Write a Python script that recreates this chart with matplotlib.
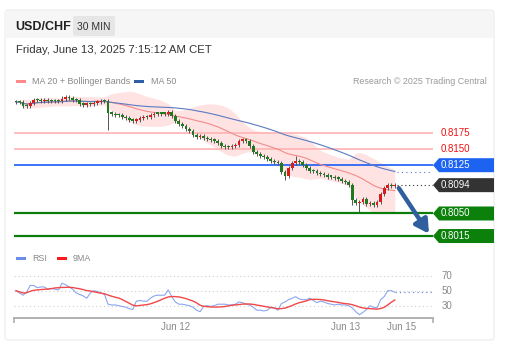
import matplotlib
matplotlib.use("Agg")
import matplotlib.pyplot as plt
import numpy as np
import pandas as pd
from matplotlib.patches import FancyBboxPatch, Rectangle, Polygon

plt.rcParams['font.family'] = ['Liberation Sans', 'DejaVu Sans']

# ---------------- data ----------------
closes = [0.8223, 0.8223, 0.8217, 0.8217, 0.8222, 0.8226, 0.8226, 0.8225, 0.8226, 0.8225,
          0.8225, 0.8225, 0.8225, 0.8228, 0.8231, 0.8229, 0.8226, 0.8226, 0.8220, 0.8219,
          0.8220, 0.8220, 0.8222, 0.8223, 0.8225, 0.8225, 0.8206, 0.8205, 0.8203, 0.8203,
          0.8200, 0.8198, 0.8195, 0.8194, 0.8195, 0.8198, 0.8200, 0.8200, 0.8203, 0.8205,
          0.8205, 0.8205, 0.8205, 0.8208, 0.8201, 0.8194, 0.8189, 0.8186, 0.8181, 0.8178,
          0.8172, 0.8169, 0.8170, 0.8167, 0.8166, 0.8164, 0.8163, 0.8160, 0.8155, 0.8153,
          0.8153, 0.8155, 0.8156, 0.8163, 0.8164, 0.8163, 0.8155, 0.8146, 0.8142, 0.8139,
          0.8138, 0.8135, 0.8132, 0.8130, 0.8128, 0.8114, 0.8108, 0.8121, 0.8128, 0.8132,
          0.8130, 0.8125, 0.8121, 0.8116, 0.8116, 0.8113, 0.8111, 0.8110, 0.8107, 0.8107,
          0.8105, 0.8104, 0.8101, 0.8099, 0.8094, 0.8071, 0.8066, 0.8068, 0.8072, 0.8065,
          0.8066, 0.8063, 0.8068, 0.8080, 0.8090, 0.8095, 0.8093, 0.8094]
first_open = 0.8224
long_lows = {26: 0.8180, 76: 0.8102, 97: 0.8052, 95: 0.8063}
long_highs = {79: 0.8139, 13: 0.8232}
wick = 0.0003

rsi = [50, 47, 44, 48, 57, 57, 54, 55, 55, 52, 53, 52, 51, 60, 58, 55, 52, 47, 45, 43,
       40, 47, 50, 49, 47, 45, 32, 31, 31, 30, 29, 28, 26, 25, 36, 37, 36, 36, 40, 43,
       44, 44, 44, 51, 42, 35, 32, 32, 31, 30, 28, 24, 22, 29, 30, 29, 30, 32, 32, 32,
       31, 31, 32, 35, 34, 32, 31, 28, 24, 24, 23, 24, 28, 27, 24, 33, 35, 38, 40, 42,
       39, 38, 38, 40, 37, 34, 36, 35, 33, 32, 31, 32, 31, 31, 30, 27, 22, 18, 21, 25,
       30, 28, 27, 38, 42, 50, 50, 48]

levels_res = [0.8175, 0.8150]
level_pivot = 0.8125
last_price = 0.8094
levels_sup = [0.8050, 0.8015]
rsi_levels = [70, 50, 30]
date_ticks = {"Jun 12": 45.2, "Jun 13": 93.2, "Jun 15": 109.0}

# ---------------- figure ----------------
W, H = 506, 355
fig = plt.figure(figsize=(W / 100, H / 100), dpi=100)
fig.patch.set_facecolor('white')

def px_axes(x0, y0, x1, y1, **kw):
    return fig.add_axes([x0 / W, 1 - y1 / H, (x1 - x0) / W, (y1 - y0) / H], **kw)

# background overlay
bg = px_axes(0, 0, W, H, zorder=0)
bg.set_xlim(0, W); bg.set_ylim(H, 0); bg.axis('off')
bg.add_patch(FancyBboxPatch((5, 10), 489, 330, boxstyle="round,pad=0,rounding_size=3",
                            fc='white', ec='#e6e8ea', lw=0.7))
bg.add_patch(Rectangle((5.5, 10.5), 488, 27, fc='#f6f6f6', ec='none'))
bg.add_patch(FancyBboxPatch((73, 16), 42, 20, boxstyle="round,pad=0,rounding_size=2",
                            fc='#e6e6e6', ec='none'))
bg.text(15, 27, "USD/CHF", fontsize=9, fontweight='bold', color='#222222', va='center')
bg.text(94, 26.5, "30 MIN", fontsize=7.5, color='#333333', va='center', ha='center')
bg.text(16, 50, "Friday, June 13, 2025 7:15:12 AM CET", fontsize=8.2, color='#333333', va='center')
# legends
bg.add_patch(Rectangle((16, 80), 10, 3, fc='#ff8a8a', ec='none'))
bg.text(32, 81.5, "MA 20 + Bollinger Bands", fontsize=6.4, color='#888888', va='center')
bg.add_patch(Rectangle((134, 80), 10, 3, fc='#2e5ea8', ec='none'))
bg.text(151, 81.5, "MA 50", fontsize=6.4, color='#888888', va='center')
bg.text(487, 81.5, "Research \u00a9 2025 Trading Central", fontsize=6.4, color='#999999',
        va='center', ha='right')
bg.add_patch(Rectangle((16, 257), 10, 3, fc='#6b8fe8', ec='none'))
bg.text(32, 258.5, "RSI", fontsize=6.4, color='#888888', va='center')
bg.add_patch(Rectangle((57, 257), 10, 3, fc='#ff1a1a', ec='none'))
bg.text(73, 258.5, "9MA", fontsize=6.4, color='#888888', va='center')

# ---------------- main price panel ----------------
y_top, y_bot = 88, 244
p_top = 0.8175 + (133 - y_top) * 0.0001553
p_bot = 0.8175 + (133 - y_bot) * 0.0001553
x_left = (14 - 16) / 3.54
x_right = (433 - 16) / 3.54

ax = px_axes(14, y_top, 433, y_bot, zorder=2)
ax.set_facecolor('none')
ax.set_xlim(x_left, x_right)
ax.set_ylim(p_bot, p_top)
ax.axis('off')

c = pd.Series(closes)
n = len(c)
idx = np.arange(n)
o = pd.Series([first_open] + closes[:-1])

ma20 = c.rolling(20, min_periods=1).mean()
sd20 = c.rolling(20, min_periods=2).std()
up = ma20 + 2 * sd20
lo = ma20 - 2 * sd20
ma50 = c.rolling(50, min_periods=1).mean()

ax.fill_between(idx, lo, up, color='#ffdede', alpha=0.85, lw=0, zorder=1)
ax.plot(idx, ma20, color='#f28b8b', lw=0.8, zorder=2)
ax.plot(idx, ma50, color='#5b7bc0', lw=0.8, zorder=2)

# levels
for lv in levels_res:
    ax.axhline(lv, color='#ffb3b3', lw=1.2, zorder=1.5)
ax.axhline(level_pivot, color='#1a5cf5', lw=1.2, zorder=1.5)
for lv in levels_sup:
    ax.axhline(lv, color='#0b7d0b', lw=1.6, zorder=1.5)

# candles
hi = np.maximum(o, c) + wick
lw_ = np.minimum(o, c) - wick
for k, v in long_lows.items():
    lw_[k] = v
for k, v in long_highs.items():
    hi[k] = v
colors = ['#d81b1b' if cc > oo else '#1f7a1f' for oo, cc in zip(o, c)]
ax.vlines(idx, lw_, hi, colors='#555555', lw=0.7, zorder=3)
body_b = np.minimum(o, c)
body_h = np.maximum(np.abs(c - o), 0.0002)
ax.bar(idx, body_h, bottom=body_b, width=0.78, color=colors, edgecolor='none', zorder=4)

# dotted extensions
ax.plot([n - 0.5, x_right], [last_price, last_price], color='#333333', lw=0.8, ls=(0, (1, 2.5)), zorder=3)
ax.plot([n - 0.5, x_right], [ma50.iloc[-1], ma50.iloc[-1]], color='#4a78d8', lw=0.8, ls=(0, (1, 3)), zorder=3)

# forecast arrow
ax.annotate("", xy=(x_right - 0.7, levels_sup[1]), xytext=(n - 0.3, last_price - 0.0001),
            arrowprops=dict(arrowstyle='-|>,head_width=0.45,head_length=0.8', color='#2f5f9e', lw=3.2),
            zorder=5)

# ---------------- right labels ----------------
lab = px_axes(433, y_top, 496, y_bot, zorder=3)
lab.set_facecolor('none')
lab.set_xlim(0, 63)
lab.set_ylim(p_bot, p_top)
lab.axis('off')
hh = 7 * 0.0001553
for lv in levels_res:
    lab.text(8, lv, f"{lv:.4f}", fontsize=7, color='#ee1111', va='center')

def tag(lv, fc):
    lab.add_patch(Polygon([(0, lv), (6, lv + hh), (61, lv + hh), (61, lv - hh), (6, lv - hh)],
                          closed=True, fc=fc, ec='none'))
    lab.text(8, lv, f"{lv:.4f}", fontsize=7, color='white', va='center')

tag(level_pivot, '#1d63f2')
tag(last_price, '#333333')
for lv in levels_sup:
    tag(lv, '#0b800b')

# ---------------- RSI panel ----------------
r_top, r_bot = 262, 318
rv_top = 70 + (275.7 - r_top) / 0.75
rv_bot = 30 - (r_bot - 305.7) / 0.75
rax = px_axes(14, r_top, 433, r_bot, zorder=2)
rax.set_facecolor('none')
rax.set_xlim(x_left, x_right)
rax.set_ylim(rv_bot, rv_top)
for s in ['top', 'right', 'left']:
    rax.spines[s].set_visible(False)
rax.spines['bottom'].set_color('#b0b0b0')
rax.spines['bottom'].set_linewidth(1.4)
rax.set_yticks([])
rax.set_xticks([x_left, x_right])
rax.set_xticklabels([])
rax.tick_params(axis='x', direction='out', length=3.5, width=1.2, color='#b0b0b0')
for lv in rsi_levels:
    rax.axhline(lv, color='#cfcfcf', lw=0.8, ls=(0, (1, 2.5)))

rs = pd.Series(rsi, dtype=float)
ma9 = rs.rolling(9, min_periods=1).mean()
rax.plot(idx, rs, color='#8aa6ef', lw=0.8)
rax.plot(idx, ma9, color='#f04848', lw=1.0)
rax.plot([n - 1, x_right], [rs.iloc[-1], rs.iloc[-1]], color='#6b8fe8', lw=0.9, ls=(0, (1, 2.5)))

for lv in rsi_levels:
    rax.text(1.02, lv, str(lv), transform=rax.get_yaxis_transform(), fontsize=7,
             color='#888888', va='center')
for name, xv in date_ticks.items():
    rax.text(xv, rv_bot - 12, name, fontsize=7, color='#888888', ha='center', va='center',
             clip_on=False)

fig.savefig("out.png", dpi=100, facecolor='white')
